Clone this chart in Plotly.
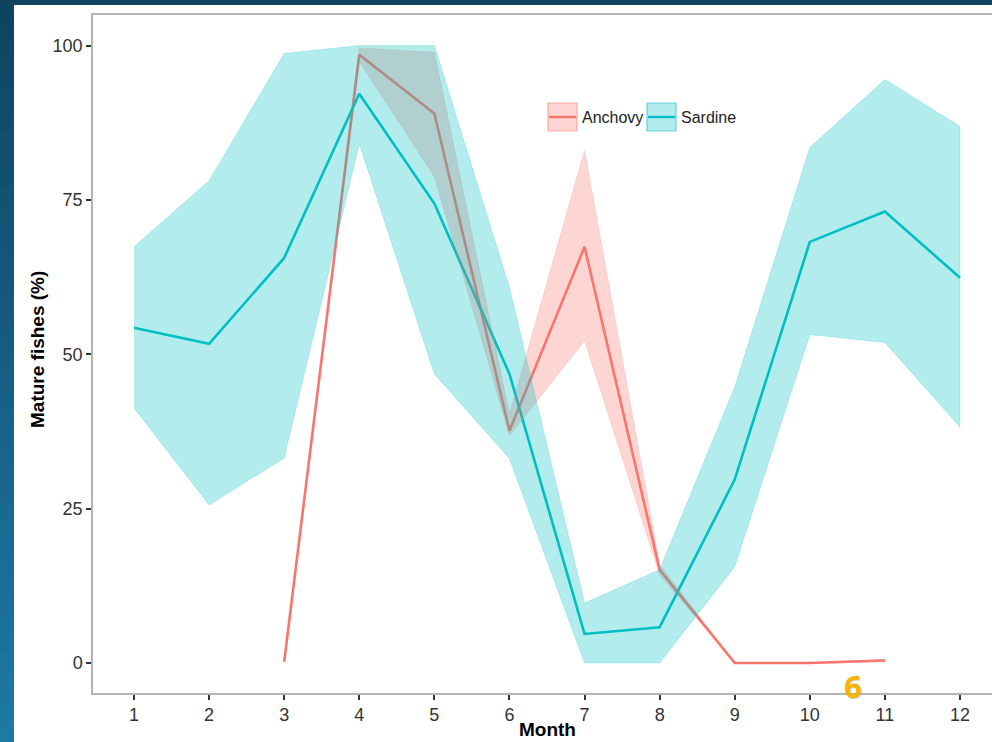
import plotly.graph_objects as go

# Monthly share of mature fish (%) with confidence ribbons
months = list(range(1, 13))

sardine_mean = [54.3, 51.7, 65.6, 92.2, 74.4, 46.8, 4.7, 5.8, 29.7, 68.2, 73.1, 62.4]
sardine_upper = [67.4, 78.1, 98.7, 100.0, 100.0, 60.8, 9.7, 15.1, 44.7, 83.5, 94.5, 86.9]
sardine_lower = [41.3, 25.6, 33.2, 84.1, 46.8, 33.1, 0.0, 0.0, 15.6, 53.2, 51.9, 38.2]

anchovy_months = [3, 4, 5, 6, 7, 8, 9, 10, 11]
anchovy_mean = [0.2, 98.5, 89.0, 37.6, 67.4, 15.1, 0.0, 0.0, 0.4]
anchovy_upper = [0.2, 99.6, 98.9, 40.3, 83.0, 15.9, 0.1, 0.1, 0.6]
anchovy_lower = [0.2, 97.4, 78.8, 36.8, 52.2, 14.3, 0.0, 0.0, 0.2]

y_ticks = [0, 25, 50, 75, 100]

ANCHOVY = "#F8766D"
SARDINE = "#00BFC4"
FONT = "Liberation Sans, Arial"


def rgba(hex_color, a):
    h = hex_color.lstrip("#")
    r, g, b = int(h[0:2], 16), int(h[2:4], 16), int(h[4:6], 16)
    return f"rgba({r},{g},{b},{a})"


W, H = 992, 742
L, R, T, B = 93, 0, 15, 49
PW, PH = W - L - R, H - T - B


def px(x):
    return (x - L) / PW


def py(y):
    return (H - B - y) / PH


fig = go.Figure()

# lines first, ribbons on top (translucent)
fig.add_trace(go.Scatter(x=anchovy_months, y=anchovy_mean, mode="lines",
                         line=dict(color=ANCHOVY, width=2.6), showlegend=False,
                         hoverinfo="skip"))
fig.add_trace(go.Scatter(x=months, y=sardine_mean, mode="lines",
                         line=dict(color=SARDINE, width=2.6), showlegend=False,
                         hoverinfo="skip"))


def ribbon(xs, lo, hi, color):
    return go.Scatter(x=list(xs) + list(xs)[::-1], y=list(hi) + list(lo)[::-1],
                      mode="lines", fill="toself", fillcolor=rgba(color, 0.3),
                      line=dict(color=rgba(color, 0.25), width=0.8),
                      showlegend=False, hoverinfo="skip")


fig.add_trace(ribbon(anchovy_months, anchovy_lower, anchovy_upper, ANCHOVY))
fig.add_trace(ribbon(months, sardine_lower, sardine_upper, SARDINE))

shapes = []
# slide background: top band and left strip gradient
top_c = (15, 68, 97)
bot_c = (30, 121, 165)
n = 40
for i in range(n):
    t = i / (n - 1)
    c = tuple(int(round(top_c[k] + (bot_c[k] - top_c[k]) * t)) for k in range(3))
    y0 = i * H / n
    y1 = (i + 1) * H / n + 0.5
    shapes.append(dict(type="rect", xref="paper", yref="paper",
                       x0=px(0), x1=px(14), y0=py(y1), y1=py(y0),
                       fillcolor=f"rgb{c}", line=dict(width=0), layer="below"))
shapes.append(dict(type="rect", xref="paper", yref="paper",
                   x0=px(0), x1=px(W), y0=py(5), y1=py(0),
                   fillcolor="rgb(16,68,96)", line=dict(width=0), layer="below"))
# white slide panel
shapes.append(dict(type="rect", xref="paper", yref="paper",
                   x0=px(14), x1=px(W + 2), y0=py(H + 2), y1=py(5),
                   fillcolor="white", line=dict(width=0), layer="below"))

# legend keys
legend_items = [("Anchovy", ANCHOVY, 548), ("Sardine", SARDINE, 647)]
annotations = []
for name, col, x0 in legend_items:
    shapes.append(dict(type="rect", xref="paper", yref="paper",
                       x0=px(x0), x1=px(x0 + 29), y0=py(131), y1=py(103),
                       fillcolor=rgba(col, 0.3), line=dict(color=rgba(col, 0.55), width=1.2),
                       layer="above"))
    shapes.append(dict(type="line", xref="paper", yref="paper",
                       x0=px(x0 + 1), x1=px(x0 + 28), y0=py(117), y1=py(117),
                       line=dict(color=col, width=2.4), layer="above"))
    annotations.append(dict(text=name, xref="paper", yref="paper",
                            x=px(x0 + 32), y=py(117), xanchor="left", yanchor="middle",
                            showarrow=False,
                            font=dict(family=FONT, size=16, color="#222222")))

# axis titles
annotations.append(dict(text="<b>Month</b>", xref="paper", yref="paper",
                        x=px(547), y=py(742), xanchor="center", yanchor="bottom",
                        showarrow=False,
                        font=dict(family=FONT, size=19, color="#000000")))
annotations.append(dict(text="<b>Mature fishes (%)</b>", xref="paper", yref="paper",
                        x=px(37), y=py(350), xanchor="center", yanchor="middle",
                        textangle=-90, showarrow=False,
                        font=dict(family=FONT, size=19, color="#000000")))

# slide number
annotations.append(dict(text="<b>6</b>", xref="paper", yref="paper",
                        x=px(854), y=py(687), xanchor="center", yanchor="middle",
                        showarrow=False,
                        font=dict(family="Open Sans, Lato", size=31, color="rgba(120,100,40,0.35)")))
annotations.append(dict(text="<b>6</b>", xref="paper", yref="paper",
                        x=px(853), y=py(686), xanchor="center", yanchor="middle",
                        showarrow=False,
                        font=dict(family="Open Sans, Lato", size=31, color="#F7B500")))

fig.update_layout(
    width=W, height=H,
    margin=dict(l=L, r=R, t=T, b=B, pad=0),
    paper_bgcolor="rgb(16,68,96)",
    plot_bgcolor="rgba(0,0,0,0)",
    shapes=shapes,
    annotations=annotations,
    showlegend=False,
)

fig.update_xaxes(
    range=[0.454, 0.454 + PW / 75.09],
    tickmode="array", tickvals=months, ticktext=[str(m) for m in months],
    showgrid=False, zeroline=False,
    showline=True, linecolor="#b3b3b3", linewidth=1.5, mirror=True,
    ticks="outside", ticklen=5, tickwidth=1.5, tickcolor="#333333",
    tickfont=dict(family=FONT, size=18, color="#333333"),
)
fig.update_yaxes(
    range=[-4.86, 104.94],
    tickmode="array", tickvals=y_ticks, ticktext=[str(v) for v in y_ticks],
    showgrid=False, zeroline=False,
    showline=True, linecolor="#b3b3b3", linewidth=1.5,
    ticks="outside", ticklen=5, tickwidth=1.5, tickcolor="#333333",
    tickfont=dict(family=FONT, size=18, color="#333333"),
)

fig.write_html("out.html")
